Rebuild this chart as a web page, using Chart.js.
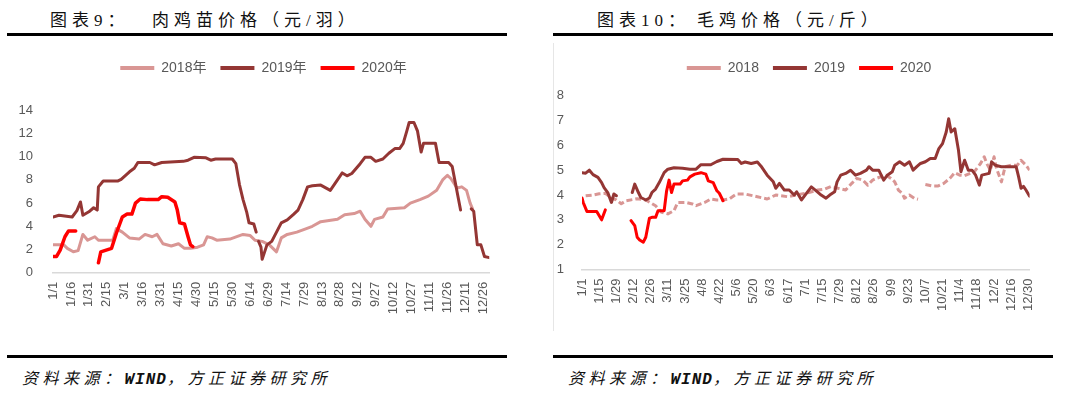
<!DOCTYPE html>
<html>
<head>
<meta charset="utf-8">
<script src="https://cdn.jsdelivr.net/npm/chart.js@4.4.0/dist/chart.umd.min.js"></script>
<style>
  body { margin: 0; width: 1080px; height: 394px; background: #fff; position: relative; overflow: hidden; }
  .title { position: absolute; top: 9px; font-family: "Liberation Serif", "Noto Sans CJK SC", serif; font-size: 17px; letter-spacing: 5px; color: #111; line-height: 24px; white-space: nowrap; }
  .rule { position: absolute; height: 3px; background: #000; }
  .src { position: absolute; top: 366px; font-family: "Noto Sans CJK SC", sans-serif; font-style: italic; font-size: 16px; letter-spacing: 4.5px; color: #111; line-height: 22px; white-space: nowrap; }
  .src b { font-family: "Liberation Mono", monospace; letter-spacing: 1px; }
  .frame { position: absolute; left: 553px; top: 43px; height: 288px; border-left: 1px solid #e6e6e6; }
  canvas { position: absolute; }
</style>
</head>
<body>
<div class="title" style="left:50px">图表9：</div>
<div class="title" style="left:152px">肉鸡苗价格（元/羽）</div>
<div class="rule" style="left:7px;top:33px;width:500px"></div>
<canvas id="seedling" width="500" height="312" style="left:8px;top:38px"></canvas>
<div class="rule" style="left:7px;top:355px;width:500px"></div>
<div class="src" style="left:22px">资料来源：<b>WIND</b>，方正证券研究所</div>

<div class="title" style="left:597px">图表10：</div>
<div class="title" style="left:697px">毛鸡价格（元/斤）</div>
<div class="rule" style="left:553px;top:33px;width:500px"></div>
<div class="frame"></div>
<canvas id="broiler" width="500" height="312" style="left:553px;top:38px"></canvas>
<div class="rule" style="left:553px;top:355px;width:500px"></div>
<div class="src" style="left:568px">资料来源：<b>WIND</b>，方正证券研究所</div>

<script>
// x = day of year (0 = 1/1, 365 = 12/31, leap-year calendar), y = price; null breaks the line
const seedlingTicks = ['1/1', '1/16', '1/31', '2/15', '3/1', '3/16', '3/31', '4/15', '4/30', '5/15', '5/30', '6/14', '6/29',
  '7/14', '7/29', '8/13', '8/28', '9/12', '9/27', '10/12', '10/27', '11/11', '11/26', '12/11', '12/26'];
const broilerTicks = ['1/1', '1/15', '1/29', '2/12', '2/26', '3/11', '3/25', '4/8', '4/22', '5/6', '5/20', '6/3', '6/17', '7/1',
  '7/15', '7/29', '8/12', '8/26', '9/9', '9/23', '10/7', '10/21', '11/4', '11/18', '12/2', '12/16', '12/30'];

// 肉鸡苗价格（元/羽）
const seedling2018 = [[0, 2.4], [9, 2.4], [12, 2.1], [17, 1.8], [21, 1.9], [25, 3.3], [29, 2.8], [35, 3.1], [38, 2.8], [50, 2.8],
  [53, 3.8], [58, 3.5], [64, 3.0], [72, 2.9], [77, 3.3], [83, 3.1], [87, 3.3], [92, 2.5], [99, 2.3], [105, 2.5],
  [110, 2.1], [115, 2.1], [121, 2.2], [126, 2.4], [129, 3.1], [133, 3.0], [137, 2.8], [148, 2.9], [159, 3.3], [165, 3.2],
  [169, 2.8], [175, 2.7], [181, 2.4], [187, 1.8], [191, 3.0], [196, 3.3], [204, 3.5], [212, 3.8], [217, 4.0], [224, 4.4],
  [238, 4.6], [244, 5.0], [252, 5.1], [257, 5.3], [261, 4.6], [266, 4.0], [269, 4.6], [276, 4.8], [280, 5.5], [294, 5.6],
  [299, 6.0], [307, 6.3], [314, 6.6], [321, 7.1], [326, 8.0], [330, 8.4], [333, 8.1], [338, 7.3], [342, 7.4], [346, 7.1],
  [349, 6.0], [351, 5.5]];
const seedling2019 = [[0, 4.8], [5, 4.95], [16, 4.8], [20, 5.35], [23, 6.1], [25, 4.95], [30, 5.25], [34, 5.6], [37, 5.4], [38, 7.4],
  [42, 7.9], [54, 7.9], [57, 8.05], [64, 8.7], [68, 9.0], [71, 9.5], [81, 9.5], [85, 9.3], [91, 9.5], [109, 9.6],
  [113, 9.7], [118, 9.95], [128, 9.9], [132, 9.7], [136, 9.8], [150, 9.8], [153, 9.4], [156, 7.6], [159, 6.3], [162, 5.25],
  [164, 4.3], [168, 4.2], [170, 3.5], [171, null], [172, 2.7], [174, 2.2], [175, 1.15], [179, 2.4], [183, 2.7], [187, 3.5],
  [191, 4.3], [196, 4.55], [201, 5.0], [205, 5.4], [209, 6.3], [213, 7.4], [217, 7.5], [224, 7.55], [232, 7.1], [237, 7.85],
  [242, 8.6], [246, 8.35], [250, 8.55], [257, 9.4], [261, 9.95], [266, 9.95], [270, 9.6], [276, 9.8], [281, 10.3], [286, 10.7],
  [290, 10.7], [293, 11.15], [296, 12.2], [298, 12.95], [302, 12.95], [305, 12.2], [308, 10.4], [310, 11.15], [320, 11.15], [323, 9.5],
  [331, 9.5], [334, 9.15], [341, 5.4], [345, null], [350, 5.5], [352, 5.3], [355, 2.4], [358, 2.4], [361, 1.4], [365, 1.3]];
const seedling2020 = [[0, 1.4], [3, 1.4], [6, 1.95], [10, 3.1], [13, 3.6], [19, 3.6], [20, null], [38, 0.85], [40, 1.8], [49, 2.1],
  [53, 3.4], [58, 4.8], [62, 5.05], [66, 5.05], [69, 6.0], [73, 6.35], [79, 6.3], [88, 6.3], [91, 6.55], [96, 6.5],
  [102, 6.1], [104, 5.4], [106, 4.3], [110, 4.2], [113, 3.1], [115, 2.4], [117, 2.25]];

// 毛鸡价格（元/斤）
const broiler2018 = [[3, 3.97], [9, 4.0], [14, 4.05], [19, 4.07], [24, 3.88], [28, 3.8], [32, 3.65], [36, 3.77], [45, 3.85], [52, 3.8],
  [60, 3.57], [65, 3.3], [70, 3.24], [75, 3.37], [78, 3.7], [85, 3.7], [90, 3.64], [93, 3.57], [100, 3.7], [105, 3.84],
  [110, 3.8], [115, 3.8], [120, 3.84], [126, 4.04], [133, 4.04], [143, 3.93], [151, 3.84], [158, 4.0], [168, 3.93], [175, 4.0],
  [185, 4.1], [192, 4.2], [198, 4.24], [203, 4.34], [215, 4.2], [220, 4.47], [224, 4.67], [229, 4.6], [233, 4.4], [237, 4.6],
  [240, 4.67], [244, 4.74], [248, 4.8], [252, 4.67], [255, 4.53], [258, 4.2], [261, 4.07], [263, 3.87], [267, 4.0], [271, 3.87],
  [274, 3.83], [277, null], [280, 4.42], [286, 4.36], [290, 4.36], [295, 4.47], [300, 4.67], [304, 4.9], [308, 4.8], [312, 4.78],
  [315, 4.84], [320, 4.94], [325, 5.27], [328, 5.54], [330, 5.27], [333, 5.0], [336, 5.54], [338, 5.07], [342, 4.53], [345, 5.14],
  [350, 5.2], [355, 5.2], [358, 5.4], [362, 5.2], [365, 5.0]];
const broiler2019 = [[0, 4.9], [3, 4.88], [6, 5.0], [9, 4.82], [13, 4.71], [16, 4.5], [18, 4.3], [21, 4.1], [24, 3.7], [26, 4.04],
  [28, 3.97], [29, null], [41, 4.1], [43, 4.44], [46, 4.1], [48, 3.9], [52, 3.8], [55, 3.88], [57, 4.1], [60, 4.24],
  [63, 4.5], [67, 4.9], [70, 5.04], [75, 5.1], [82, 5.08], [88, 5.04], [93, 5.04], [97, 5.22], [105, 5.22], [110, 5.35],
  [115, 5.44], [127, 5.43], [130, 5.27], [133, 5.33], [138, 5.27], [143, 5.33], [146, 5.16], [151, 4.8], [156, 4.53], [158, 4.27],
  [161, 4.47], [165, 4.2], [169, 4.2], [173, 4.0], [175, 4.13], [179, 3.8], [183, 4.07], [187, 4.33], [191, 4.17], [195, 4.0],
  [199, 3.87], [202, 4.0], [206, 4.13], [208, 4.53], [211, 4.8], [215, 4.87], [219, 5.0], [223, 4.8], [227, 4.87], [232, 5.0],
  [234, 5.14], [237, 5.0], [242, 5.0], [246, 4.6], [249, 4.8], [253, 4.94], [255, 5.2], [259, 5.34], [263, 5.2], [267, 5.34],
  [270, 5.0], [273, 5.14], [276, 5.27], [280, 5.34], [284, 5.47], [288, 5.47], [291, 5.87], [294, 6.07], [297, 6.54], [299, 7.07],
  [301, 6.54], [304, 6.67], [307, 5.8], [309, 4.94], [312, 5.4], [315, 5.0], [318, 5.0], [321, 4.8], [324, 4.4], [326, 4.8],
  [332, 4.87], [334, 5.34], [337, 5.2], [342, 5.14], [350, 5.14], [354, 5.14], [356, 4.74], [358, 4.27], [360, 4.35], [362, 4.2],
  [365, 3.95]];
const broiler2020 = [[0, 3.88], [1, 3.7], [4, 3.34], [12, 3.34], [16, 3.0], [19, 3.4], [20, null], [40, 2.97], [43, 2.77], [45, 2.3],
  [47, 2.19], [50, 2.1], [52, 2.3], [55, 3.07], [57, 3.1], [60, 3.1], [62, 3.37], [67, 3.37], [69, 4.17], [71, 4.6],
  [73, 4.1], [75, 4.44], [80, 4.44], [82, 4.57], [86, 4.6], [88, 4.73], [92, 4.84], [97, 4.9], [101, 4.84], [103, 4.57],
  [107, 4.5], [110, 4.17], [112, 4.07], [115, 3.77]];

const monthLen = [31, 29, 31, 30, 31, 30, 31, 31, 30, 31, 30, 31];
function doy(md) {
  const [m, d] = md.split('/').map(Number);
  let n = d - 1;
  for (let i = 0; i < m - 1; i++) n += monthLen[i];
  return n;
}

const fontFamily = "'Liberation Sans', Arial, 'Noto Sans CJK SC', sans-serif";
const grey = '#595959';

// extra room under the legend, and nudge the legend sideways
function legendTweak(extra, dx) {
  return {
    id: 'legendTweak',
    beforeInit(chart) {
      const fit = chart.legend.fit;
      chart.legend.fit = function () { fit.call(this); this.height += extra; };
    },
    afterLayout(chart) {
      chart.legend.left += dx;
      chart.legend.right += dx;
    }
  };
}

function buildChart(id, o) {
  return new Chart(document.getElementById(id), {
    type: 'line',
    data: {
      datasets: o.series.map((s, i) => ({
        label: s.label,
        data: s.data.map(p => ({ x: p[0], y: p[1] })),
        borderColor: s.color,
        backgroundColor: s.color,
        borderWidth: s.width,
        borderDash: s.dash || [],
        borderCapStyle: s.dash ? 'butt' : 'round',
        borderJoinStyle: 'round',
        pointRadius: 0,
        tension: 0,
        spanGaps: false,
        order: o.series.length - i
      }))
    },
    options: {
      responsive: false,
      animation: false,
      devicePixelRatio: 1,
      layout: { padding: { top: 9, left: 0, right: o.padRight, bottom: 0 } },
      plugins: {
        legend: {
          position: 'top',
          align: 'center',
          labels: {
            usePointStyle: true,
            pointStyle: 'line',
            pointStyleWidth: 34,
            padding: 14,
            color: grey,
            font: { family: fontFamily, size: 14 },
            sort: (a, b) => a.datasetIndex - b.datasetIndex,
            generateLabels: chart => Chart.defaults.plugins.legend.labels.generateLabels(chart)
              .map(l => Object.assign(l, { lineDash: [], lineCap: 'butt', lineWidth: 4 }))
          }
        },
        tooltip: { enabled: false }
      },
      scales: {
        x: {
          type: 'linear',
          min: 0,
          max: 365,
          grid: { display: false, drawTicks: false },
          border: { display: true, color: '#d9d9d9', width: 1.5 },
          afterBuildTicks: ax => { ax.ticks = o.ticks.map(t => ({ value: doy(t) })); },
          afterFit: ax => { ax.height = o.xHeight; },
          ticks: {
            autoSkip: false,
            maxRotation: 90,
            minRotation: 90,
            padding: 9,
            color: grey,
            font: { family: fontFamily, size: 13 },
            callback: (v, i) => o.ticks[i]
          }
        },
        y: {
          min: o.yMin,
          max: o.yMax,
          grid: { display: false, drawTicks: false },
          border: { display: false },
          afterFit: ax => { ax.width = o.yWidth; },
          ticks: { stepSize: o.yStep, padding: o.yPad, color: grey, font: { family: fontFamily, size: 13 } }
        }
      }
    },
    plugins: [legendTweak(o.legendExtra, o.legendShift)]
  });
}

buildChart('seedling', {
  ticks: seedlingTicks,
  series: [
    { label: '2018年', data: seedling2018, color: '#d99694', width: 3 },
    { label: '2019年', data: seedling2019, color: '#943634', width: 3 },
    { label: '2020年', data: seedling2020, color: '#ff0000', width: 3.5 }
  ],
  yMin: 0, yMax: 14, yStep: 2, yWidth: 45, yPad: 20,
  padRight: 9, xHeight: 77.3, legendExtra: 25.3, legendShift: 10
});

buildChart('broiler', {
  ticks: broilerTicks,
  series: [
    { label: '2018', data: broiler2018, color: '#d99694', width: 3, dash: [6, 3] },
    { label: '2019', data: broiler2019, color: '#943634', width: 3 },
    { label: '2020', data: broiler2020, color: '#ff0000', width: 3 }
  ],
  yMin: 1, yMax: 8, yStep: 1, yWidth: 29, yPad: 18,
  padRight: 6, xHeight: 80.5, legendExtra: 10.7, legendShift: 9
});
</script>
</body>
</html>
